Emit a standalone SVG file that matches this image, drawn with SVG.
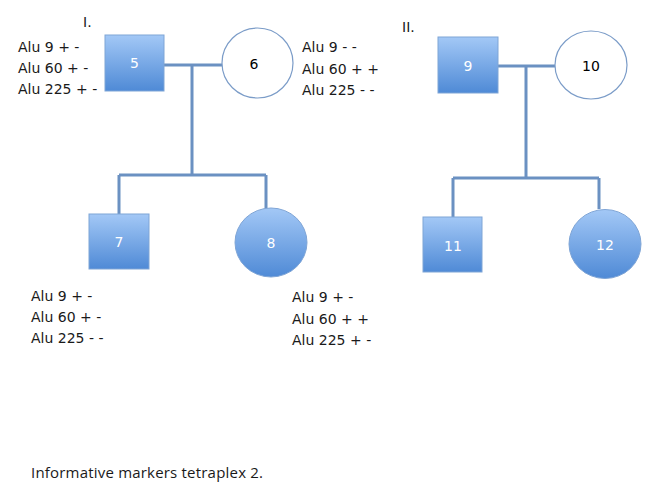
<svg xmlns="http://www.w3.org/2000/svg" width="661" height="493" viewBox="0 0 661 493">
<defs>
<linearGradient id="g" x1="0" y1="0" x2="0" y2="1">
<stop offset="0" stop-color="#a3c8f6"/>
<stop offset="1" stop-color="#4f8ad6"/>
</linearGradient>
</defs>
<style>
.t{font-family:"DejaVu Sans",sans-serif;font-size:14px;fill:#1a1a1a}
.n{font-family:"DejaVu Sans",sans-serif;font-size:14px;text-anchor:middle;fill:#ffffff}
.nb{font-family:"DejaVu Sans",sans-serif;font-size:14px;text-anchor:middle;fill:#000000}
.aff{fill:url(#g);stroke:#7fa5d6;stroke-width:1}
.un{fill:#ffffff;stroke:#7b9cc8;stroke-width:1.2}
.c{fill:none;stroke:#6b91c2;stroke-width:3}
</style>
<rect width="661" height="493" fill="#ffffff"/>
<g id="connectors">
<path class="c" d="M164 65H222M192 65V175M119 175H266M119 175V214M266 175V208"/>
<path class="c" d="M498 66H555M526 66V178M453 178H599M453 178V217M599 178V209"/>
</g>
<g id="node5"><rect class="aff" x="105" y="35" width="59" height="56"/><text class="n" x="134.5" y="68">5</text></g>
<g id="node6"><ellipse class="un" cx="257.5" cy="63" rx="35.5" ry="35"/><text class="nb" x="254" y="69">6</text></g>
<g id="node7"><rect class="aff" x="89" y="214" width="60" height="55"/><text class="n" x="119" y="247">7</text></g>
<g id="node8"><ellipse class="aff" cx="271" cy="242.5" rx="36" ry="34.5"/><text class="n" x="271" y="248">8</text></g>
<g id="node9"><rect class="aff" x="438" y="37" width="60" height="56"/><text class="n" x="468" y="71">9</text></g>
<g id="node10"><ellipse class="un" cx="591" cy="65" rx="36" ry="34"/><text class="nb" x="591" y="71">10</text></g>
<g id="node11"><rect class="aff" x="423" y="217" width="59" height="55"/><text class="n" x="453" y="251">11</text></g>
<g id="node12"><ellipse class="aff" cx="605" cy="244" rx="36" ry="34.5"/><text class="n" x="605" y="250">12</text></g>
<g id="labels">
<text class="t" x="83" y="27">I.</text>
<text class="t" x="402" y="32">II.</text>
<text class="t" x="18" y="52">Alu 9 + -</text>
<text class="t" x="18" y="73">Alu 60 + -</text>
<text class="t" x="18" y="94">Alu 225 + -</text>
<text class="t" x="302" y="52">Alu 9 - -</text>
<text class="t" x="302" y="74">Alu 60 + +</text>
<text class="t" x="302" y="95">Alu 225 - -</text>
<text class="t" x="31" y="301">Alu 9 + -</text>
<text class="t" x="31" y="322">Alu 60 + -</text>
<text class="t" x="31" y="343">Alu 225 - -</text>
<text class="t" x="292" y="302">Alu 9 + -</text>
<text class="t" x="292" y="324">Alu 60 + +</text>
<text class="t" x="292" y="345">Alu 225 + -</text>
<text class="t" x="31" y="478" style="font-family:'Open Sans',sans-serif;font-size:15px" textLength="232">Informative markers tetraplex 2.</text>
</g>
</svg>
